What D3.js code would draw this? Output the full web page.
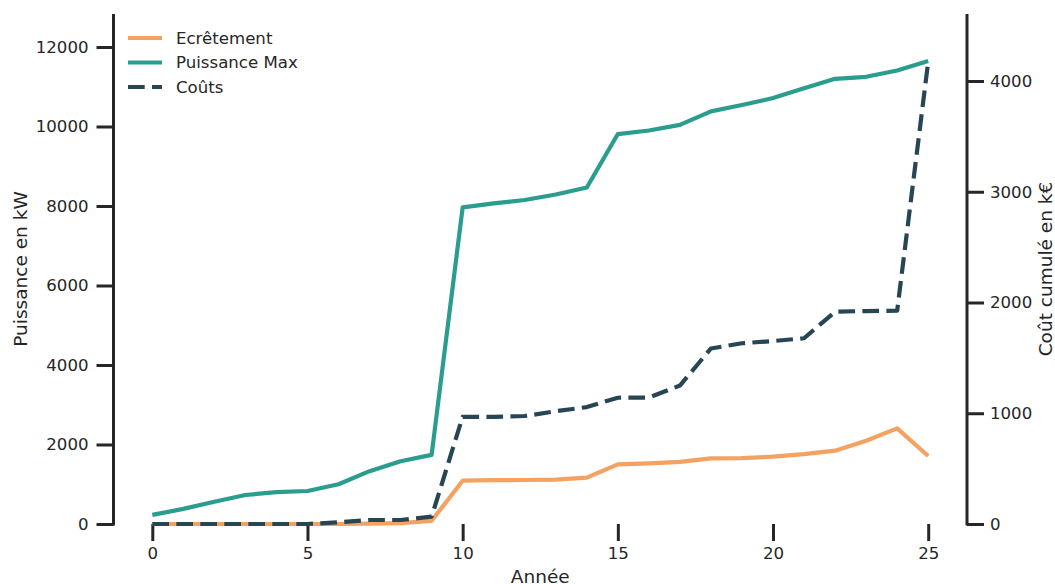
<!DOCTYPE html>
<html><head><meta charset="utf-8">
<script src="https://cdn.jsdelivr.net/npm/d3@7"></script>
<style>body{margin:0;background:#fff;} text{font-family:"DejaVu Sans",sans-serif;fill:#262626;}</style>
</head><body>
<svg id="c" width="1055" height="584"></svg>
<script>
const years = d3.range(0, 26);
const ecretement = [0,0,0,0,0,0,0,10,20,80,1090,1105,1107,1115,1165,1500,1525,1565,1650,1655,1695,1760,1845,2095,2405,1710];
const puissanceMax = [230,380,560,730,800,830,1000,1330,1580,1740,7965,8065,8150,8290,8465,9810,9900,10040,10380,10540,10715,10960,11200,11250,11410,11650];
const couts = [0,0,0,0,0,0,15,36,36,66,968,968,975,1018,1056,1140,1142,1250,1585,1632,1652,1677,1917,1923,1926,4175];
const leftTicks = [0,2000,4000,6000,8000,10000,12000];
const rightTicks = [0,1000,2000,3000,4000];
const xTicks = [0,5,10,15,20,25];
const labels = {x:"Année", yLeft:"Puissance en kW", yRight:"Coût cumulé en k€"};
const seriesNames = ["Ecrêtement","Puissance Max","Coûts"];
const colors = ["#f4a261","#2a9d8f","#264653"];

const svg = d3.select("#c");
const L = 113.5, R = 967, T = 14, B = 524;
const x = d3.scaleLinear().domain([-1.25, 26.25]).range([L, R]);
const yL = d3.scaleLinear().domain([0, 12830]).range([B, T]);
const yR = d3.scaleLinear().domain([0, 4605]).range([B, T]);
const ink = "#262626";
const LW = 4.2, DASH = "16.7,7.3";
const FS = 16.6, LFS = 18.5;

// left axis
const gL = svg.append("g").attr("transform", `translate(${L},0)`)
  .call(d3.axisLeft(yL).tickValues(leftTicks).tickSize(17).tickPadding(8).tickFormat(d3.format("d")));
gL.select(".domain").remove();
gL.append("line").attr("x1",0).attr("x2",0).attr("y1",T).attr("y2",B+1.5).attr("stroke",ink).attr("stroke-width",3);
gL.selectAll(".tick line").attr("stroke",ink).attr("stroke-width",3);
gL.selectAll(".tick text").attr("font-size",FS).style("fill",ink);

// right axis
const gR = svg.append("g").attr("transform", `translate(${R},0)`)
  .call(d3.axisRight(yR).tickValues(rightTicks).tickSize(17).tickPadding(6).tickFormat(d3.format("d")));
gR.select(".domain").remove();
gR.append("line").attr("x1",0).attr("x2",0).attr("y1",T).attr("y2",B+1.5).attr("stroke",ink).attr("stroke-width",3);
gR.selectAll(".tick line").attr("stroke",ink).attr("stroke-width",3);
gR.selectAll(".tick text").attr("font-size",FS).style("fill",ink);

// x axis (ticks only)
const gX = svg.append("g").attr("transform", `translate(0,${B})`)
  .call(d3.axisBottom(x).tickValues(xTicks).tickSize(17).tickPadding(6).tickFormat(d3.format("d")));
gX.select(".domain").remove();
gX.selectAll(".tick line").attr("stroke",ink).attr("stroke-width",3);
gX.selectAll(".tick text").attr("font-size",FS).style("fill",ink);

// axis labels
svg.append("text").attr("x",(L+R)/2).attr("y",583).attr("text-anchor","middle").attr("font-size",LFS).text(labels.x);
svg.append("text").attr("transform",`translate(27,${(T+B)/2}) rotate(-90)`).attr("text-anchor","middle").attr("font-size",LFS).text(labels.yLeft);
svg.append("text").attr("transform",`translate(1052,${(T+B)/2}) rotate(-90)`).attr("text-anchor","middle").attr("font-size",LFS).text(labels.yRight);

// lines
const lineL = d3.line().x((d,i)=>x(years[i])).y(d=>yL(d));
const lineR = d3.line().x((d,i)=>x(years[i])).y(d=>yR(d));
svg.append("path").datum(ecretement).attr("d",lineL).attr("fill","none").attr("stroke",colors[0]).attr("stroke-width",LW).attr("stroke-linejoin","round");
svg.append("path").datum(puissanceMax).attr("d",lineL).attr("fill","none").attr("stroke",colors[1]).attr("stroke-width",LW).attr("stroke-linejoin","round");
svg.append("path").datum(couts).attr("d",lineR).attr("fill","none").attr("stroke",colors[2]).attr("stroke-width",LW).attr("stroke-dasharray",DASH).attr("stroke-linejoin","round");

// legend
const lg = svg.append("g");
seriesNames.forEach((n,i)=>{
  const yy = 38 + i*24.5;
  lg.append("line").attr("x1",128).attr("x2",162).attr("y1",yy).attr("y2",yy).attr("stroke",colors[i]).attr("stroke-width",LW)
    .attr("stroke-dasharray", i===2 ? DASH : null);
  lg.append("text").attr("x",176).attr("y",yy).attr("dy","0.35em").attr("font-size",FS).text(n);
});
</script>
</body></html>
